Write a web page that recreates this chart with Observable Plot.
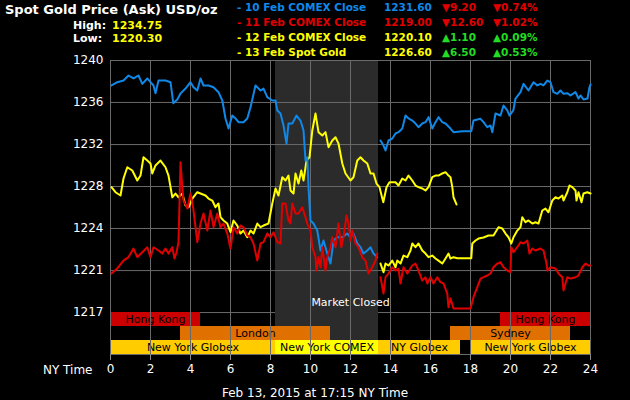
<!DOCTYPE html>
<html><head><meta charset="utf-8">
<script src="https://cdn.jsdelivr.net/npm/d3@7"></script>
<script src="https://cdn.jsdelivr.net/npm/@observablehq/plot@0.6"></script>
<style>
body{margin:0;background:#000;}
#wrap{position:relative;width:630px;height:400px;background:#000;overflow:hidden;font-family:"DejaVu Sans",sans-serif;color:#fff;}
#wrap svg{position:absolute;left:0;}
.t{position:absolute;white-space:nowrap;line-height:1;}
.b{font-weight:bold;}
g[aria-label^="x-axis"] line, g[aria-label^="x-axis"] path{stroke:#8a8a8a;}
</style></head><body><div id="wrap"></div>
<script>
// ---------- data ----------
const titleText = "Spot Gold Price (Ask) USD/oz";
const highLowLabels = ["High:", "Low:"];
const highLowValues = ["1234.75", "1220.30"];

const legendLabels = ["- 10 Feb COMEX Close", "- 11 Feb COMEX Close", "- 12 Feb COMEX Close", "- 13 Feb Spot Gold"];
const legendValues = ["1231.60", "1219.00", "1220.10", "1226.60"];
const legendChanges = ["9.20", "12.60", "1.10", "6.50"];
const legendPercents = ["0.74%", "1.02%", "0.09%", "0.53%"];
const legendUp = [false, false, true, true];
const legendSeries = ["blue", "red", "yellow", "yellow"];

const xTicks = [0, 2, 4, 6, 8, 10, 12, 14, 16, 18, 20, 22, 24];
const yTickValues = [1240, 1236.17, 1232.33, 1228.5, 1224.67, 1220.83, 1217];
const yTickLabels = ["1240", "1236", "1232", "1228", "1224", "1221", "1217"];
const yDomain = [1213.17, 1240];

const closedWindow = [{start: 8.25, end: 13.4}];
const closedLabel = [{hour: 12, price: 1217, label: "Market Closed"}];

const sessionLabels = ["Hong Kong", "Hong Kong", "London", "Sydney", "New York Globex", "New York COMEX", "NY Globex", "New York Globex"];
const sessionRows   = ["asia", "asia", "europe", "europe", "ny", "ny", "ny", "ny"];
const sessionKinds  = ["hk", "hk", "ldn", "ldn", "globex", "comex", "globex", "globex"];
const sessionStart  = [0, 19.5, 3.5, 17, 0, 8.25, 13.4, 18];
const sessionEnd    = [4.5, 24, 11, 23, 8.25, 13.4, 17.5, 24];
const sessionRowOrder = ["asia", "europe", "ny"];

const footerText = "Feb 13, 2015 at 17:15 NY Time";
const xAxisName = "NY Time";

// price traces [hour, price]
const blueA = [[0.05,1237.72],[0.34,1238.02],[0.65,1238.17],[0.9,1238.63],[1.15,1238.36],[1.4,1238.63],[1.59,1237.87],[1.84,1238.36],[2.0,1238.02],[2.15,1237.72],[2.25,1237.02],[2.4,1238.17],[2.75,1238.17],[3.0,1238.02],[3.14,1236.10],[3.34,1236.44],[3.5,1236.99],[3.75,1237.44],[4.0,1238.02],[4.15,1237.56],[4.34,1237.26],[4.5,1238.36],[4.65,1237.72],[4.9,1237.72],[5.15,1237.56],[5.4,1237.11],[5.59,1236.35],[5.75,1234.71],[5.9,1233.79],[6.09,1234.98],[6.25,1234.71],[6.4,1234.37],[6.65,1234.37],[6.84,1234.71],[7.0,1235.74],[7.25,1237.72],[7.5,1237.26],[7.65,1237.44],[7.84,1236.65],[8.09,1236.35],[8.25,1236.35],[8.34,1235.44],[8.5,1235.16],[8.65,1234.07],[8.8,1232.42],[8.9,1234.25],[9.09,1234.25],[9.3,1234.98],[9.5,1234.52],[9.65,1233.61],[9.75,1230.87],[9.84,1231.17],[9.9,1228.44],[10.0,1225.40],[10.15,1225.12],[10.34,1224.48],[10.5,1222.66],[10.65,1223.57],[10.84,1222.38],[11.0,1221.47],[11.15,1223.57],[11.34,1223.87],[11.59,1223.87],[11.84,1224.21],[12.0,1223.87],[12.15,1224.21],[12.34,1223.30],[12.5,1222.96],[12.65,1222.38],[12.84,1222.66],[13.0,1222.96],[13.15,1222.38],[13.34,1222.05]];
const blueB = [[13.5,1232.70],[13.65,1232.24],[13.75,1231.79],[13.9,1232.70],[14.09,1232.88],[14.25,1233.34],[14.4,1233.46],[14.59,1233.79],[14.75,1234.98],[14.9,1234.71],[15.09,1234.52],[15.25,1234.25],[15.4,1233.91],[15.59,1234.25],[15.75,1234.37],[15.9,1234.83],[16.09,1233.79],[16.25,1234.37],[16.4,1234.83],[16.59,1234.37],[16.75,1234.25],[17.0,1233.79],[17.15,1233.46],[17.59,1233.55],[18.04,1233.55],[18.15,1234.52],[18.5,1234.68],[18.65,1234.37],[18.84,1233.91],[19.0,1234.07],[19.09,1233.46],[19.25,1235.16],[19.5,1234.98],[19.65,1235.89],[19.84,1235.44],[19.95,1234.98],[20.14,1235.44],[20.25,1236.53],[20.5,1237.11],[20.65,1237.87],[20.9,1237.26],[21.15,1238.02],[21.34,1237.72],[21.5,1237.87],[21.65,1237.72],[21.84,1238.17],[22.0,1238.02],[22.15,1237.11],[22.34,1236.96],[22.5,1237.26],[22.65,1236.96],[22.84,1237.02],[23.0,1236.81],[23.25,1237.11],[23.4,1236.53],[23.5,1236.81],[23.65,1236.44],[23.85,1236.53],[23.95,1237.56],[24.0,1237.81]];
const redA = [[0.05,1220.56],[0.34,1221.02],[0.65,1221.74],[0.9,1222.05],[1.15,1222.84],[1.34,1222.05],[1.59,1222.50],[1.84,1222.96],[2.0,1222.05],[2.15,1222.96],[2.4,1222.66],[2.59,1222.38],[2.75,1222.84],[2.9,1222.38],[3.09,1222.96],[3.2,1221.93],[3.3,1222.50],[3.4,1223.42],[3.5,1230.72],[3.59,1228.44],[3.65,1227.22],[3.85,1226.49],[4.0,1227.86],[4.14,1226.49],[4.25,1224.79],[4.34,1223.42],[4.5,1225.12],[4.65,1226.04],[4.84,1224.48],[5.0,1226.31],[5.15,1224.79],[5.34,1226.04],[5.5,1224.79],[5.65,1225.12],[5.84,1224.21],[6.0,1222.84],[6.15,1224.79],[6.34,1224.21],[6.5,1224.94],[6.65,1224.79],[6.84,1224.03],[7.0,1223.87],[7.15,1223.30],[7.34,1221.74],[7.5,1223.30],[7.65,1223.42],[7.84,1224.21],[8.0,1223.87],[8.15,1224.33],[8.34,1223.42],[8.5,1223.30],[8.59,1226.95],[8.75,1226.95],[8.9,1225.40],[9.0,1225.12],[9.09,1226.95],[9.25,1226.04],[9.4,1226.04],[9.59,1226.61],[9.75,1225.70],[9.84,1225.12],[10.0,1224.48],[10.09,1222.96],[10.25,1222.05],[10.3,1220.83],[10.4,1222.05],[10.5,1221.13],[10.59,1222.96],[10.75,1220.83],[10.84,1222.05],[11.0,1222.96],[11.09,1223.87],[11.25,1222.96],[11.4,1225.12],[11.54,1222.96],[11.65,1223.87],[11.8,1225.85],[11.9,1225.12],[12.0,1223.57],[12.09,1224.48],[12.25,1223.30],[12.4,1222.96],[12.59,1222.05],[12.75,1221.74],[12.9,1220.56],[13.09,1221.13],[13.25,1221.74],[13.34,1222.38]];
const redB = [[13.5,1220.22],[13.65,1218.73],[13.75,1220.22],[13.9,1220.56],[14.09,1221.13],[14.25,1220.83],[14.4,1221.02],[14.5,1219.65],[14.65,1221.13],[14.84,1220.56],[15.09,1221.29],[15.25,1221.47],[15.4,1220.83],[15.59,1219.92],[15.75,1220.22],[15.84,1219.65],[16.0,1220.22],[16.15,1219.65],[16.34,1220.22],[16.5,1219.77],[16.65,1219.65],[16.84,1218.73],[16.9,1217.48],[17.0,1218.28],[17.15,1217.36],[18.0,1217.36],[18.15,1218.40],[18.34,1219.31],[18.5,1220.10],[18.84,1220.38],[19.0,1220.56],[19.15,1221.13],[19.34,1221.47],[19.5,1221.59],[19.65,1221.13],[19.84,1220.83],[20.0,1220.68],[20.04,1222.96],[20.15,1222.50],[20.34,1222.96],[20.5,1223.42],[20.65,1223.30],[20.84,1223.57],[20.95,1222.38],[21.09,1222.84],[21.25,1222.66],[21.5,1222.84],[21.65,1222.66],[21.8,1221.47],[21.85,1220.83],[22.0,1221.13],[22.25,1221.02],[22.4,1220.56],[22.59,1220.22],[22.65,1219.01],[22.84,1220.22],[23.0,1220.10],[23.25,1220.22],[23.4,1220.38],[23.59,1221.13],[23.75,1221.47],[23.9,1221.29],[24.0,1221.29]];
const yellowA = [[0.05,1228.44],[0.25,1227.98],[0.5,1227.68],[0.65,1229.23],[0.84,1230.26],[1.09,1229.96],[1.34,1229.05],[1.5,1229.50],[1.65,1231.17],[1.84,1230.87],[2.0,1230.60],[2.09,1229.69],[2.25,1230.42],[2.5,1230.87],[2.75,1230.26],[2.9,1229.50],[3.09,1227.52],[3.25,1227.86],[3.4,1227.52],[3.59,1227.86],[3.75,1226.77],[3.9,1226.61],[4.09,1227.40],[4.34,1227.98],[4.5,1227.86],[4.75,1227.68],[4.9,1227.40],[5.09,1227.22],[5.25,1226.61],[5.4,1226.95],[5.5,1225.70],[5.65,1225.40],[5.84,1225.12],[6.0,1224.33],[6.15,1225.40],[6.34,1224.94],[6.5,1224.21],[6.65,1224.48],[6.84,1223.87],[7.0,1224.48],[7.15,1224.21],[7.34,1225.12],[7.5,1224.79],[7.65,1224.94],[7.9,1225.12],[8.09,1226.95],[8.25,1228.32],[8.4,1227.68],[8.59,1229.35],[8.75,1229.05],[8.9,1229.50],[9.0,1228.14],[9.15,1227.86],[9.25,1229.69],[9.4,1228.77],[9.54,1229.96],[9.65,1229.05],[9.8,1230.87],[9.95,1231.17],[10.09,1233.61],[10.25,1235.16],[10.4,1233.46],[10.59,1233.16],[10.75,1233.46],[10.9,1232.09],[11.09,1232.70],[11.25,1233.00],[11.4,1232.42],[11.59,1230.60],[11.75,1229.69],[12.0,1229.05],[12.15,1229.35],[12.34,1230.87],[12.5,1231.17],[12.65,1230.87],[12.84,1230.60],[13.0,1229.69],[13.15,1229.69],[13.3,1228.77],[13.45,1228.44],[13.64,1227.07],[13.8,1228.44],[13.95,1228.89],[14.25,1228.89],[14.4,1228.59],[14.59,1229.23],[14.75,1229.05],[14.9,1229.50],[15.09,1229.05],[15.25,1228.59],[15.4,1228.44],[15.59,1228.32],[15.75,1228.14],[15.9,1228.44],[16.09,1229.35],[16.25,1229.50],[16.4,1229.50],[16.59,1229.69],[16.75,1229.81],[16.9,1229.50],[17.0,1229.35],[17.09,1228.44],[17.15,1227.52],[17.3,1226.86]];
const yellowB = [[13.5,1221.47],[13.65,1220.68],[13.75,1221.47],[13.9,1221.29],[14.09,1221.74],[14.25,1221.13],[14.34,1221.74],[14.5,1221.47],[14.65,1222.20],[14.84,1222.05],[15.0,1222.66],[15.09,1223.30],[15.25,1222.96],[15.4,1223.30],[15.59,1222.66],[15.75,1222.38],[15.9,1222.05],[16.09,1222.20],[16.25,1221.93],[16.4,1221.74],[16.59,1221.47],[16.75,1221.93],[16.9,1222.38],[17.0,1221.93],[17.15,1222.05],[17.34,1221.95],[18.04,1221.95],[18.09,1223.30],[18.25,1223.57],[18.4,1223.75],[18.65,1223.85],[18.9,1224.03],[19.15,1224.03],[19.4,1224.79],[19.59,1224.67],[19.75,1224.21],[19.9,1223.87],[20.04,1223.30],[20.15,1223.87],[20.34,1224.48],[20.5,1224.79],[20.59,1225.70],[20.75,1225.24],[20.9,1225.40],[21.09,1225.12],[21.25,1225.24],[21.4,1225.12],[21.59,1226.31],[21.75,1226.49],[21.9,1226.15],[22.09,1227.22],[22.25,1227.52],[22.4,1227.40],[22.59,1227.68],[22.65,1227.22],[22.84,1227.98],[22.95,1228.59],[23.09,1228.44],[23.25,1228.14],[23.3,1227.22],[23.4,1227.98],[23.55,1227.07],[23.65,1227.86],[23.84,1227.98],[24.0,1227.86]];

// ---------- styles ----------
const seriesColor = {blue: "#0f88e8", red: "#e00000", yellow: "#ffff00"};
const sessionColor = {hk: "#cc0000", ldn: "#e07000", globex: "#ffcc00", comex: "#ffff00"};
const gridColor = "#6a6a6a";
const shadeColor = "#2b2b2b";
const upColor = "#22dd22", downColor = "#e00000";

// ---------- build ----------
const wrap = document.getElementById("wrap");
const font = "DejaVu Sans, sans-serif";

const lineMark = (data, color) => Plot.line(data, {x: d => d[0], y: d => d[1], stroke: color, strokeWidth: 2});

const main = Plot.plot({
  width: 630, height: 400,
  marginLeft: 110, marginRight: 40, marginTop: 60, marginBottom: 46,
  style: {background: "#000", color: "#fff", fontFamily: font, fontSize: "12px"},
  x: {domain: [0, 24], axis: null},
  y: {domain: yDomain, ticks: yTickValues, tickFormat: d => yTickLabels[yTickValues.indexOf(d)], tickSize: 0, tickPadding: 7, label: null},
  marks: [
    Plot.rect(closedWindow, {x1: "start", x2: "end", y1: () => yDomain[0], y2: () => yDomain[1], fill: shadeColor}),
    Plot.ruleX(xTicks, {stroke: gridColor}),
    Plot.ruleY(yTickValues, {stroke: gridColor}),
    Plot.ruleY([yDomain[0]], {stroke: gridColor}),
    Plot.text(closedLabel, {x: "hour", y: "price", text: "label", dy: -10, fill: "#fff", fontSize: 11}),
    lineMark(yellowA, seriesColor.yellow),
    lineMark(blueA, seriesColor.blue),
    lineMark(blueB, seriesColor.blue),
    lineMark(redA, seriesColor.red),
    lineMark(redB, seriesColor.red),
    lineMark(yellowB, seriesColor.yellow)
  ]
});
main.style.top = "0px";
wrap.appendChild(main);

const sessions = sessionLabels.map((label, i) => ({label, row: sessionRows[i], kind: sessionKinds[i], start: sessionStart[i], end: sessionEnd[i]}));
const closedRows = closedWindow.flatMap(w => ["asia", "europe"].map(row => ({row, start: w.start, end: w.end})));

const bars = Plot.plot({
  width: 630, height: 88,
  marginLeft: 110, marginRight: 40, marginTop: 0, marginBottom: 46,
  style: {background: "transparent", color: "#fff", fontFamily: font, fontSize: "12px"},
  x: {domain: [0, 24], ticks: xTicks, tickSize: 6, tickPadding: 4, label: null},
  y: {type: "band", domain: sessionRowOrder, padding: 0, axis: null},
  color: {type: "identity"},
  marks: [
    Plot.barX(closedRows, {x1: "start", x2: "end", y: "row", fill: shadeColor}),
    Plot.barX(sessions, {x1: "start", x2: "end", y: "row", fill: d => sessionColor[d.kind]}),
    Plot.text(sessions, {x: d => (d.start + d.end) / 2, y: "row", text: "label", fill: "#000", fontSize: 11}),
    Plot.ruleX(xTicks, {stroke: gridColor})
  ]
});
bars.style.top = "312px";
wrap.appendChild(bars);

// ---------- header / footer text ----------
function addText(txt, left, top, size, color, bold, extra) {
  const el = document.createElement("div");
  el.className = "t" + (bold ? " b" : "");
  el.textContent = txt;
  el.style.left = left + "px";
  el.style.top = top + "px";
  el.style.fontSize = size + "px";
  el.style.color = color;
  if (extra) Object.assign(el.style, extra);
  wrap.appendChild(el);
  return el;
}
addText(titleText, 5, 3, 13, "#fff", true);
highLowLabels.forEach((lab, i) => {
  addText(lab, 73, [20, 33][i], 11, "#fff", true);
  addText(highLowValues[i], 112, [20, 33][i], 11, "#ffff00", true);
});
const rowTops = [2, 17, 32, 47];
legendLabels.forEach((lab, i) => {
  const c = seriesColor[legendSeries[i]];
  const tri = legendUp[i] ? "\u25B2" : "\u25BC";
  const cc = legendUp[i] ? upColor : downColor;
  addText(lab, 237, rowTops[i], 10.5, c, true);
  addText(legendValues[i], 384, rowTops[i], 10.5, c, true);
  addText(tri + legendChanges[i], 442, rowTops[i], 10.5, cc, true);
  addText(tri + legendPercents[i], 493, rowTops[i], 10.5, cc, true);
});
addText(xAxisName, 43, 364, 12, "#fff", false);
addText(footerText, 0, 387, 12, "#fff", false, {width: "630px", textAlign: "center"});
</script></body></html>
